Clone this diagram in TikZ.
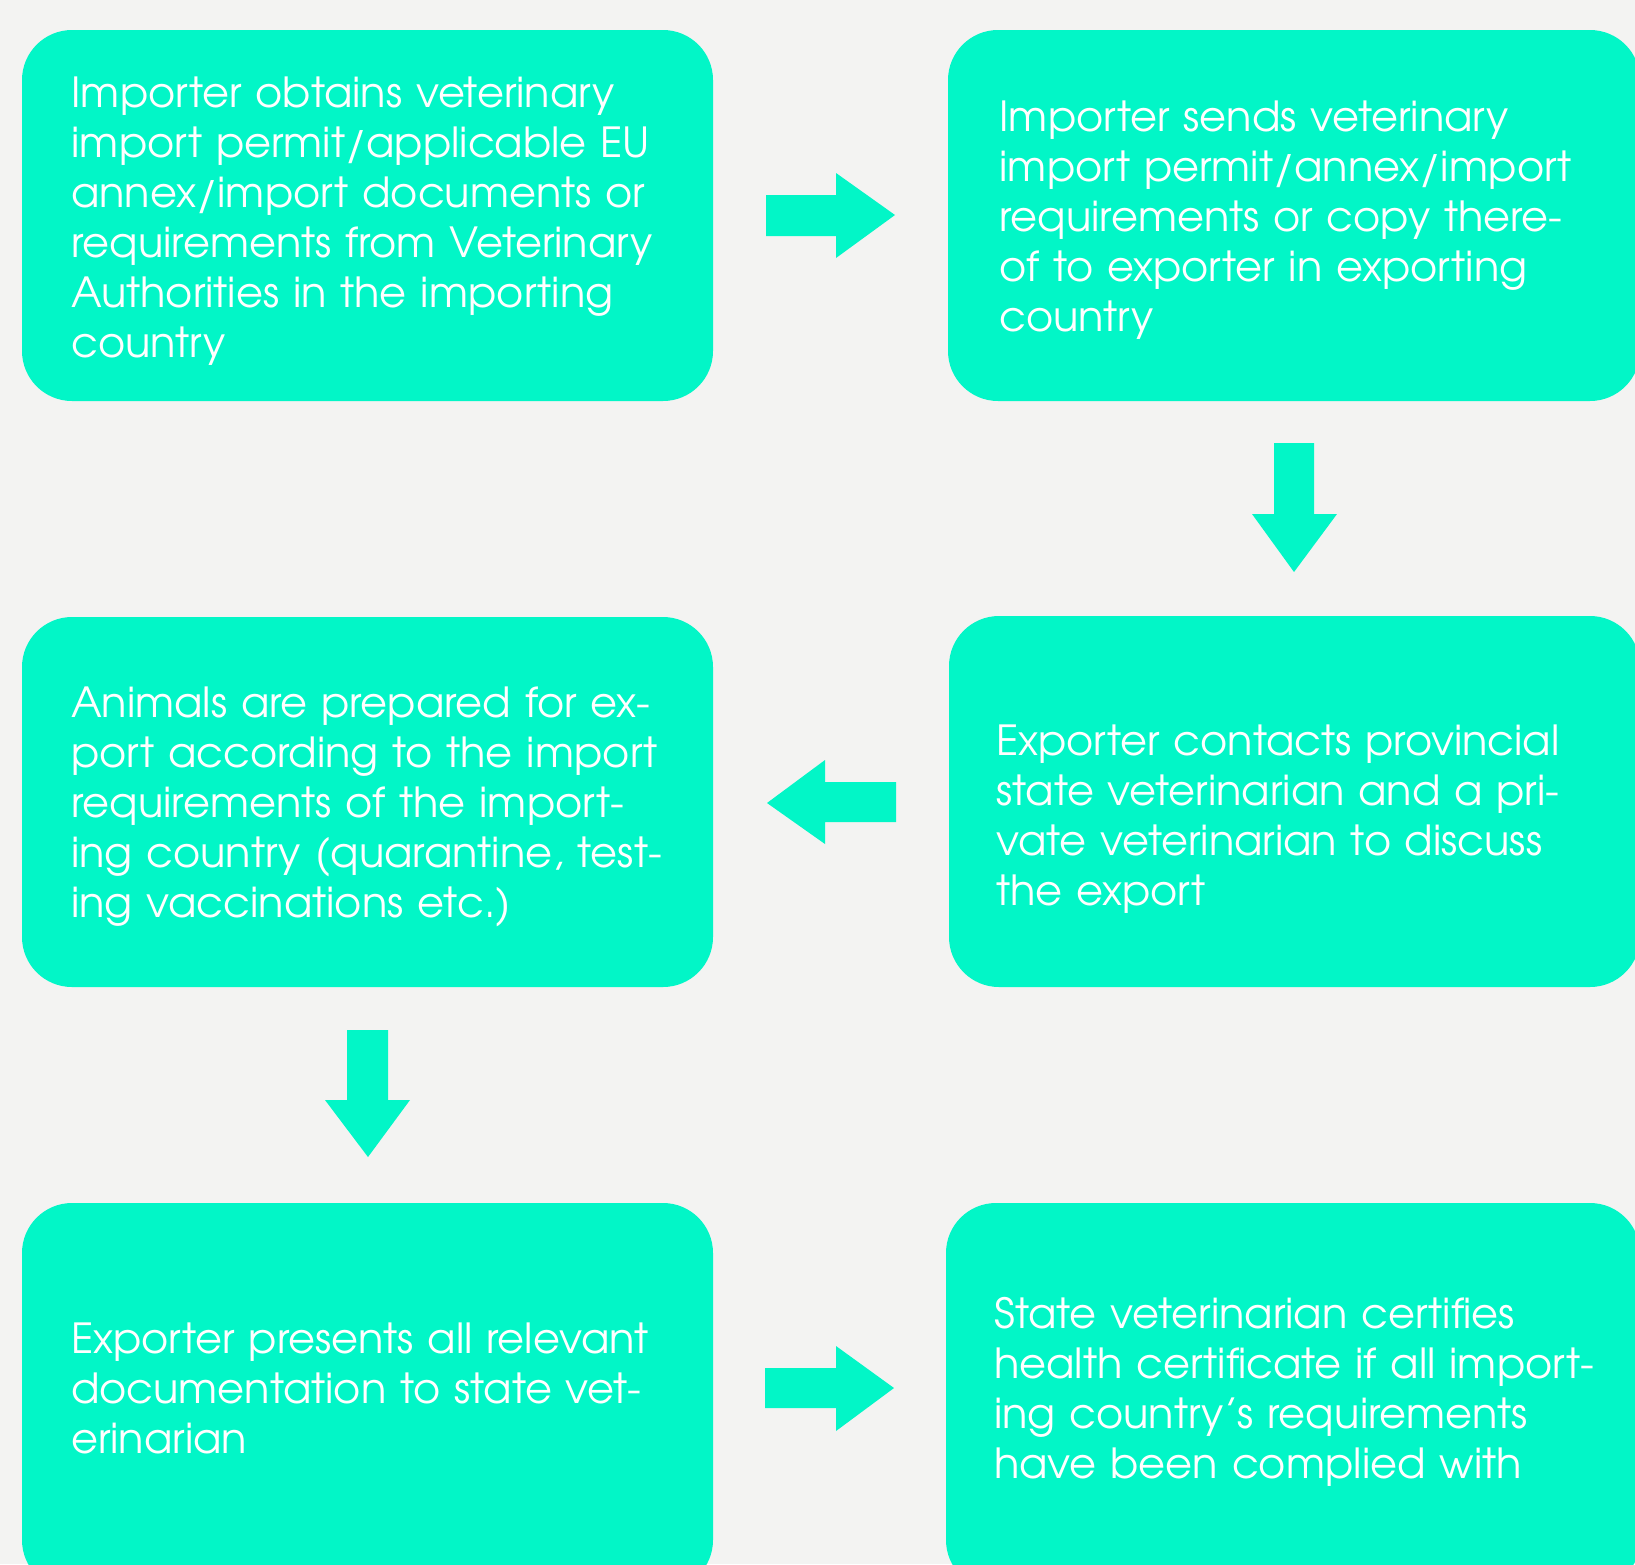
\documentclass[tikz,border=0pt]{standalone}
\usepackage{fontspec}
\setmainfont{TeX Gyre Adventor}
\definecolor{bgc}{HTML}{F3F3F2}
\definecolor{boxc}{HTML}{02F6C7}
\tikzset{
  box/.style={rectangle, rounded corners=50pt, fill=boxc, draw=none, inner sep=0pt},
  txt/.style={anchor=base west, inner sep=0pt, text=white, align=left, text width=640pt,
     font=\fontsize{41.5}{50}\selectfont},
  blockarrow/.style={fill=boxc, draw=none}
}
\begin{document}
\begin{tikzpicture}[x=1pt,y=-1pt]
\useasboundingbox (0,0) rectangle (1635,1564);
\clip (0,0) rectangle (1635,1564);
\fill[bgc] (0,0) rectangle (1635,1564);
% boxes
\node[box, minimum width=691pt, minimum height=371pt] (b1) at (367.5,215.5) {};
\node[box, minimum width=692pt, minimum height=371pt] (b2) at (1294,215.5) {};
\node[box, minimum width=691pt, minimum height=370pt] (b3) at (367.5,802) {};
\node[box, minimum width=691pt, minimum height=371pt] (b4) at (1294.5,801.5) {};
\node[box, minimum width=691pt, minimum height=387pt] (b5) at (367.5,1396.5) {};
\node[box, minimum width=694pt, minimum height=387pt] (b6) at (1293,1396.5) {};
% texts
\node[txt] (t1) at (71,107) {Importer obtains veterinary\\import permit/applicable EU\\annex/import documents or\\requirements from Veterinary\\Authorities in the importing\\country};
\node[txt] (t2) at (999,131) {Importer sends veterinary\\import permit/annex/import\\requirements or copy there-\\of to exporter in exporting\\country};
\node[txt] (t3) at (71,717) {Animals are prepared for ex-\\port according to the import\\requirements of the import-\\ing country (quarantine, test-\\ing vaccinations etc.)};
\node[txt] (t4) at (996,755) {Exporter contacts provincial\\state veterinarian and a pri-\\vate veterinarian to discuss\\the export};
\node[txt] (t5) at (71,1353) {Exporter presents all relevant\\documentation to state vet-\\erinarian};
\node[txt] (t6) at (994,1328) {State veterinarian certifies\\health certificate if all import-\\ing country’s requirements\\have been complied with};
% arrows
\fill[blockarrow] (766,195) -- (836,195) -- (836,173) -- (895,215) -- (836,258) -- (836,236) -- (766,236) -- cycle;
\fill[blockarrow] (1274,443) -- (1314,443) -- (1314,514) -- (1337,514) -- (1294,572) -- (1252,514) -- (1274,514) -- cycle;
\fill[blockarrow] (896,782) -- (825,782) -- (825,760) -- (767,803) -- (825,844) -- (825,822) -- (896,822) -- cycle;
\fill[blockarrow] (347,1030) -- (388,1030) -- (388,1100) -- (410,1100) -- (368,1157) -- (325,1100) -- (347,1100) -- cycle;
\fill[blockarrow] (765,1368) -- (836,1368) -- (836,1346) -- (894,1388) -- (836,1431) -- (836,1408) -- (765,1408) -- cycle;
\end{tikzpicture}
\end{document}
